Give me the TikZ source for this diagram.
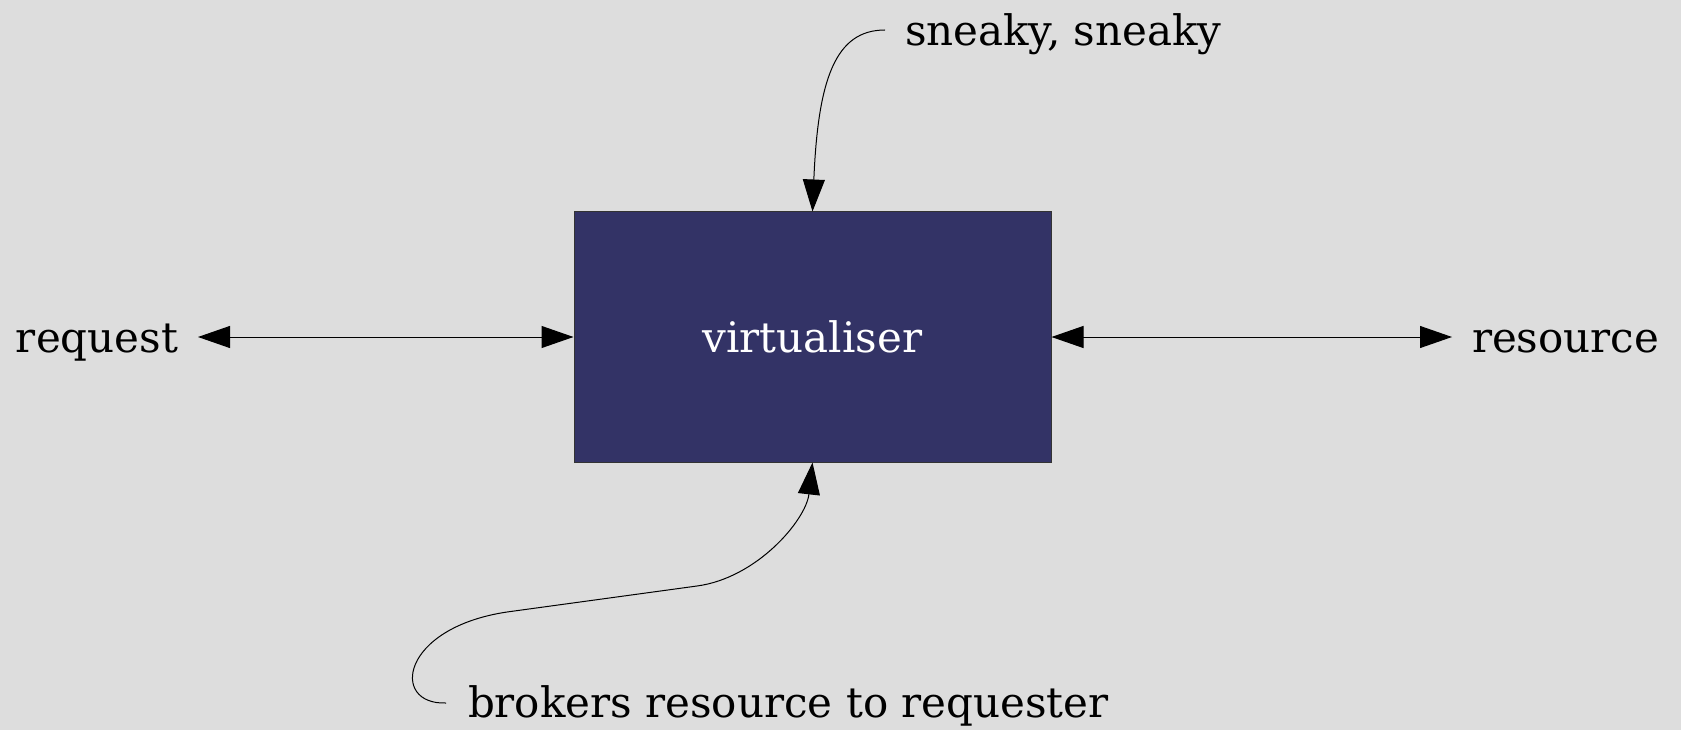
\documentclass[tikz,border=0pt]{standalone}
\usepackage{fontspec}
\setmainfont{DejaVu Serif}
\usetikzlibrary{arrows.meta}
\definecolor{bgGrey}{HTML}{DDDDDD}
\definecolor{boxBlue}{HTML}{333366}
\tikzset{
  label text/.style={inner sep=0pt, outer sep=0pt, font=\fontsize{42}{50}\selectfont, text=black},
  link/.style={line width=1pt, draw=black, -{Triangle[length=32pt,width=22pt]}},
  twoway/.style={line width=1pt, draw=black, {Triangle[length=32pt,width=22pt]}-{Triangle[length=32pt,width=22pt]}},
  virtbox/.style={draw=black!80, line width=1pt, fill=boxBlue, minimum width=477pt, minimum height=250pt,
                  inner sep=0pt, font=\fontsize{42}{50}\selectfont, text=white},
}
\begin{document}
\begin{tikzpicture}[x=1pt, y=-1pt]
  % canvas
  \fill[bgGrey] (0,0) rectangle (1681,730);
  \useasboundingbox (0,0) rectangle (1681,730);

  % central component
  \node[virtbox] (virt) at (812.5,337) {virtualiser};

  % labels
  \node[label text, anchor=base west] (request) at (16,352) {request};
  \node[label text, anchor=base west] (resource) at (1472,352) {resource};
  \node[label text, anchor=base west] (sneaky) at (905,46) {sneaky, sneaky};
  \node[label text, anchor=base west] (brokers) at (468,717) {brokers resource to requester};

  % free ends of the connectors
  \coordinate (reqEnd) at (198,337);
  \coordinate (resEnd) at (1452,337);
  \coordinate (sneakyEnd) at (885,30);
  \coordinate (brokersEnd) at (446,703);
  \coordinate (bend) at (507,612);
  \coordinate (bendB) at (697,586);

  % connectors
  \draw[twoway] (reqEnd) -- (virt.west);
  \draw[twoway] (virt.east) -- (resEnd);
  \draw[link] (sneakyEnd) .. controls (835,30) and (818,80) .. (virt.north);
  \draw[link] (brokersEnd) .. controls (390,705) and (400,628) .. (bend)
              -- (bendB) .. controls (757,578) and (806,520) .. (virt.south);
\end{tikzpicture}
\end{document}
